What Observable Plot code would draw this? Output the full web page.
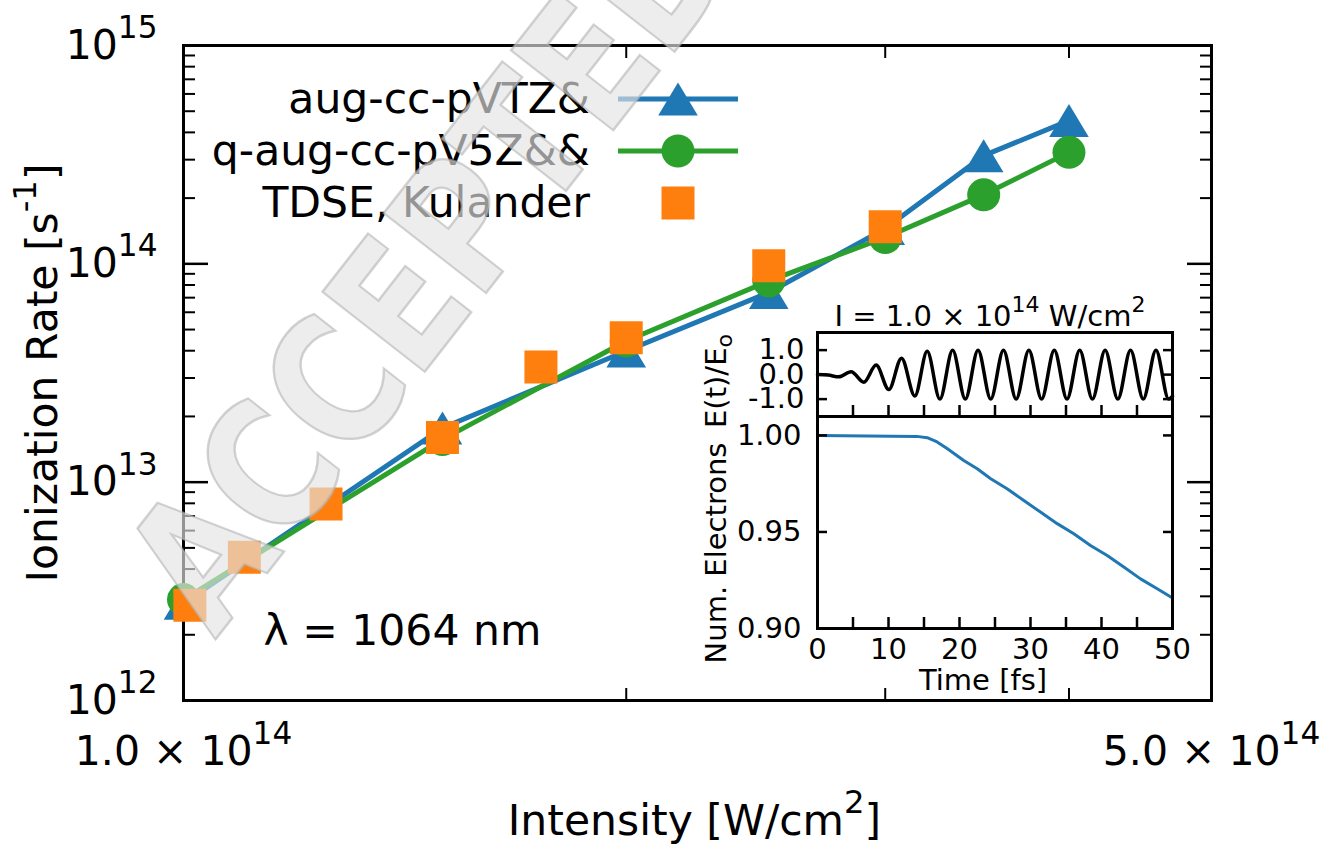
<!DOCTYPE html>
<html><head><meta charset="utf-8">
<script src="https://cdn.jsdelivr.net/npm/d3@7"></script>
<script src="https://cdn.jsdelivr.net/npm/@observablehq/plot@0.6"></script>
<style>
html,body{margin:0;padding:0;background:#fff;}
#wrap{position:relative;width:1329px;height:851px;overflow:hidden;font-family:"DejaVu Sans",sans-serif;}
#wrap > svg{position:absolute;}
</style></head><body><div id="wrap"></div>
<script>
// ---------------- data ----------------
const intensityVTZ = [1.0e14, 1.5e14, 2.0e14, 2.5e14, 3.0e14, 3.5e14, 4.0e14];
const rateVTZ      = [2.79e12, 1.77e13, 3.99e13, 7.39e13, 1.45e14, 3.13e14, 4.53e14];
const intensityV5Z = [1.0e14, 1.5e14, 2.0e14, 2.5e14, 3.0e14, 3.5e14, 4.0e14];
const rateV5Z      = [2.90e12, 1.57e13, 4.43e13, 8.35e13, 1.32e14, 2.07e14, 3.24e14];
const intensityTDSE = [1.01e14, 1.10e14, 1.25e14, 1.50e14, 1.75e14, 2.00e14, 2.50e14, 3.00e14];
const rateTDSE      = [2.73e12, 4.53e12, 7.95e12, 1.60e13, 3.37e13, 4.59e13, 9.79e13, 1.48e14];

const seriesNames = ["aug-cc-pVTZ&", "q-aug-cc-pV5Z&&", "TDSE, Kulander"];

// inset: electric field (extrema)
const fieldTime  = [0, 1.5, 3.0, 4.74, 6.52, 8.26, 10.05, 11.83, 13.71, 15.45, 17.24, 19.03, 20.82, 22.61, 24.40, 26.19, 27.98, 29.77, 31.56, 33.35, 35.14, 36.93, 38.72, 40.51, 42.30, 44.09, 45.88, 47.67, 49.46, 50];
const fieldValue = [0, -0.02, -0.09, 0.12, -0.31, 0.39, -0.61, 0.67, -0.87, 0.95, -1, 1, -1, 1, -1, 1, -1, 1, -1, 1, -1, 1, -1, 1, -1, 1, -1, 1, -1, -0.88];
// inset: number of electrons
const elecTime  = [0, 14.0, 15.45, 16.85, 18.3, 20.6, 22.5, 24.4, 26.7, 29.06, 31.4, 33.76, 36.1, 38.45, 40.8, 43.14, 45.5, 47.85, 50];
const elecValue = [1.000, 0.9995, 0.9988, 0.9966, 0.9931, 0.987, 0.9827, 0.9776, 0.9724, 0.9663, 0.9603, 0.9543, 0.9491, 0.943, 0.9378, 0.9318, 0.9257, 0.9206, 0.9158];

// ticks
const xMajor = [1e14, 5e14];
const xMinor = [2e14, 3e14, 4e14];
const yMajor = [1e12, 1e13, 1e14, 1e15];
const yMantissa = [2, 3, 4, 5, 6, 7, 8, 9];
const yDecades = [1e12, 1e13, 1e14];
const yMinor = yDecades.flatMap(d => yMantissa.map(m => m * d));
const fieldTicks = [-1, 0, 1];
const elecTicks = [0.90, 0.95, 1.00];
const timeTicks = [0, 5, 10, 15, 20, 25, 30, 35, 40, 45, 50];

// texts
const xLabel = "Intensity [W/cm^{2}]";
const yLabel = "Ionization Rate [s^{-1}]";
const lambdaLabel = "λ = 1064 nm";
const insetTitle = "I = 1.0 × 10^{14} W/cm^{2}";
const insetXLabel = "Time [fs]";
const insetYLabelTop = "E(t)/E_{o}";
const insetYLabelBottom = "Num. Electrons";
const watermark = "ACCEPTED MANUSCRIPT";

// ---------------- style ----------------
const BLUE = "#1f77b4", GREEN = "#2ca02c", ORANGE = "#ff7f0e";
const F = 42.5, FT = 41, Fi = 29;
const svgns = "http://www.w3.org/2000/svg";
const triSym = {draw(ctx, size) { const r = Math.sqrt(size / Math.PI); ctx.moveTo(0, -r); ctx.lineTo(1.2 * r, r); ctx.lineTo(-1.2 * r, r); ctx.closePath(); }};
const sqSym = {draw(ctx, size) { const r = Math.sqrt(size / Math.PI); ctx.rect(-r, -r, 2 * r, 2 * r); }};
const MR = 16.5;

const vtz = intensityVTZ.map((x, i) => ({x, y: rateVTZ[i]}));
const v5z = intensityV5Z.map((x, i) => ({x, y: rateV5Z[i]}));
const tdse = intensityTDSE.map((x, i) => ({x, y: rateTDSE[i]}));
const field = fieldTime.map((t, i) => ({t, v: fieldValue[i]}));
const elec = elecTime.map((t, i) => ({t, v: elecValue[i]}));

const wrap = document.getElementById("wrap");
const blank = () => "";

// ---------------- main chart ----------------
const main = Plot.plot({
  width: 1329, height: 851,
  marginLeft: 183, marginRight: 118, marginTop: 45, marginBottom: 151,
  style: {fontFamily: "DejaVu Sans", fontSize: FT + "px", color: "#000", background: "transparent", overflow: "visible"},
  x: {type: "log", domain: [1e14, 5e14]},
  y: {type: "log", domain: [1e12, 1e15]},
  marks: [
    Plot.frame({stroke: "black", strokeWidth: 3}),
    ...["left", "right"].flatMap(a => [
      Plot.axisY(yMajor, {anchor: a, tickSize: -25, tickFormat: blank, strokeWidth: 2.5, label: null}),
      Plot.axisY(yMinor, {anchor: a, tickSize: -12, tickFormat: blank, strokeWidth: 2, label: null})
    ]),
    ...["bottom", "top"].map(a => Plot.axisX(xMinor, {anchor: a, tickSize: -12, tickFormat: blank, strokeWidth: 2, label: null})),
    Plot.axisY(yMajor, {anchor: "left", tickSize: 0, tickPadding: 26, tickFormat: d => `10^{${Math.round(Math.log10(d))}}`, label: null}),
    Plot.axisX(xMajor, {anchor: "bottom", tickSize: 0, tickPadding: 35, tickFormat: d => `${(d / 1e14).toFixed(1)} × 10^{14}`, label: null}),
    Plot.text([xLabel], {text: d => d, frameAnchor: "bottom", textAnchor: "middle", dy: 134, dx: -3, fontSize: F}),
    Plot.text([yLabel], {text: d => d, frameAnchor: "left", textAnchor: "middle", dx: -140, rotate: -90, fontSize: F}),
    Plot.text([lambdaLabel], {text: d => d, frameAnchor: "bottom-left", dx: 80, dy: -56, textAnchor: "start", fontSize: F}),
    Plot.line(vtz, {x: "x", y: "y", stroke: BLUE, strokeWidth: 5}),
    Plot.dot(vtz, {x: "x", y: "y", symbol: triSym, r: MR, fill: BLUE, stroke: "none"}),
    Plot.line(v5z, {x: "x", y: "y", stroke: GREEN, strokeWidth: 5}),
    Plot.dot(v5z, {x: "x", y: "y", symbol: "circle", r: MR, fill: GREEN, stroke: "none"}),
    Plot.dot(tdse, {x: "x", y: "y", symbol: sqSym, r: MR, fill: ORANGE, stroke: "none"})
  ]
});
main.style.left = "0px"; main.style.top = "0px";
wrap.appendChild(main);

// ---------------- inset: field panel ----------------
const p1 = Plot.plot({
  width: 500, height: 136,
  marginLeft: 127, marginRight: 18, marginTop: 52, marginBottom: 0,
  style: {fontFamily: "DejaVu Sans", fontSize: Fi + "px", color: "#000", background: "transparent", overflow: "visible"},
  x: {domain: [0, 50]},
  y: {domain: [-1.71, 1.72]},
  marks: [
    Plot.frame({fill: "white", stroke: "none"}),
    Plot.line(field, {x: "t", y: "v", stroke: "black", strokeWidth: 3.5, curve: "monotone-x"}),
    ...["left", "right"].map(a => Plot.axisY(fieldTicks, {anchor: a, tickSize: -10, tickFormat: blank, strokeWidth: 2.5, label: null})),
    Plot.axisY(fieldTicks, {anchor: "left", tickSize: 0, tickPadding: 13, tickFormat: d => d.toFixed(1), label: null}),
    Plot.axisX(timeTicks, {anchor: "bottom", tickSize: -11, tickFormat: blank, strokeWidth: 2.5, label: null}),
    Plot.frame({stroke: "black", strokeWidth: 3}),
    Plot.text([insetTitle], {text: d => d, frameAnchor: "top", textAnchor: "middle", dy: -27, dx: -5, fontSize: Fi})
  ]
});
p1.style.left = "690px"; p1.style.top = "280px";
wrap.appendChild(p1);

// ---------------- inset: electrons panel ----------------
const p2 = Plot.plot({
  width: 500, height: 284,
  marginLeft: 127, marginRight: 18, marginTop: 0, marginBottom: 72,
  style: {fontFamily: "DejaVu Sans", fontSize: Fi + "px", color: "#000", background: "transparent", overflow: "visible"},
  x: {domain: [0, 50]},
  y: {domain: [0.90, 1.0098]},
  marks: [
    Plot.frame({fill: "white", stroke: "none"}),
    Plot.line(elec, {x: "t", y: "v", stroke: BLUE, strokeWidth: 3}),
    ...["left", "right"].map(a => Plot.axisY(elecTicks, {anchor: a, tickSize: -10, tickFormat: blank, strokeWidth: 2.5, label: null})),
    Plot.axisY(elecTicks, {anchor: "left", tickSize: 0, tickPadding: 16, tickFormat: d => d.toFixed(2), label: null}),
    Plot.axisX(timeTicks, {anchor: "bottom", tickSize: -11, tickFormat: blank, strokeWidth: 2.5, label: null}),
    Plot.axisX(timeTicks.filter(d => d % 10 === 0), {anchor: "bottom", tickSize: 0, tickPadding: 10, tickFormat: d => String(d), label: null}),
    Plot.frame({stroke: "black", strokeWidth: 3}),
    Plot.text([insetXLabel], {text: d => d, frameAnchor: "bottom", textAnchor: "middle", dy: 61, dx: -12, fontSize: Fi})
  ]
});
p2.style.left = "690px"; p2.style.top = "416px";
wrap.appendChild(p2);

// ---------------- overlay: legend, inset y-labels, watermark ----------------
const ov = d3.create("svg").attr("width", 1329).attr("height", 851)
  .style("left", "0px").style("top", "0px").style("position", "absolute")
  .attr("font-family", "DejaVu Sans");
const legendRows = [
  {label: seriesNames[0], color: BLUE, sym: triSym, line: true},
  {label: seriesNames[1], color: GREEN, sym: d3.symbolCircle, line: true},
  {label: seriesNames[2], color: ORANGE, sym: sqSym, line: false}
];
const lg = ov.append("g");
legendRows.forEach((row, i) => {
  const cy = 99 + i * 52;
  lg.append("text").attr("x", 590).attr("y", cy).attr("dy", "0.32em").attr("text-anchor", "end")
    .attr("font-size", F).text(row.label);
  if (row.line) lg.append("line").attr("x1", 618).attr("x2", 738).attr("y1", cy).attr("y2", cy)
    .attr("stroke", row.color).attr("stroke-width", 5);
  lg.append("path").attr("transform", `translate(678,${cy})`)
    .attr("d", d3.symbol(row.sym, Math.PI * MR * MR)()).attr("fill", row.color);
});
ov.append("text").attr("transform", "translate(726,381) rotate(-90)").attr("text-anchor", "middle")
  .attr("font-size", Fi).text(insetYLabelTop);
ov.append("text").attr("transform", "translate(726,553) rotate(-90)").attr("text-anchor", "middle")
  .attr("font-size", Fi).text(insetYLabelBottom);
// watermark
ov.append("text").attr("transform", "translate(215,640) rotate(-52) scale(0.82,1)")
  .attr("font-size", 178).attr("font-weight", "bold")
  .attr("fill", "#e4e4e4").attr("fill-opacity", 0.65)
  .attr("stroke", "#b4b4b4").attr("stroke-width", 2.5).attr("stroke-opacity", 0.6)
  .text(watermark);
wrap.appendChild(ov.node());

// ---------------- rich text: ^{..} and _{..} ----------------
function richify(root) {
  root.querySelectorAll("text").forEach(t => {
    const s = t.textContent;
    if (!/[\^_]\{/.test(s)) return;
    const fsz = parseFloat(getComputedStyle(t).fontSize);
    const re = /([\^_])\{([^}]*)\}/g;
    const parts = []; let last = 0, m;
    while ((m = re.exec(s))) {
      if (m.index > last) parts.push({s: s.slice(last, m.index), k: ""});
      parts.push({s: m[2], k: m[1]}); last = re.lastIndex;
    }
    if (last < s.length) parts.push({s: s.slice(last), k: ""});
    t.textContent = "";
    let cur = 0;
    for (const p of parts) {
      const ts = document.createElementNS(svgns, "tspan");
      const target = p.k === "^" ? -0.5 * fsz : p.k === "_" ? 0.2 * fsz : 0;
      if (target !== cur) ts.setAttribute("dy", target - cur);
      cur = target;
      if (p.k) ts.setAttribute("font-size", 0.76 * fsz);
      ts.textContent = p.s;
      t.appendChild(ts);
    }
  });
}
richify(wrap);
</script></body></html>
